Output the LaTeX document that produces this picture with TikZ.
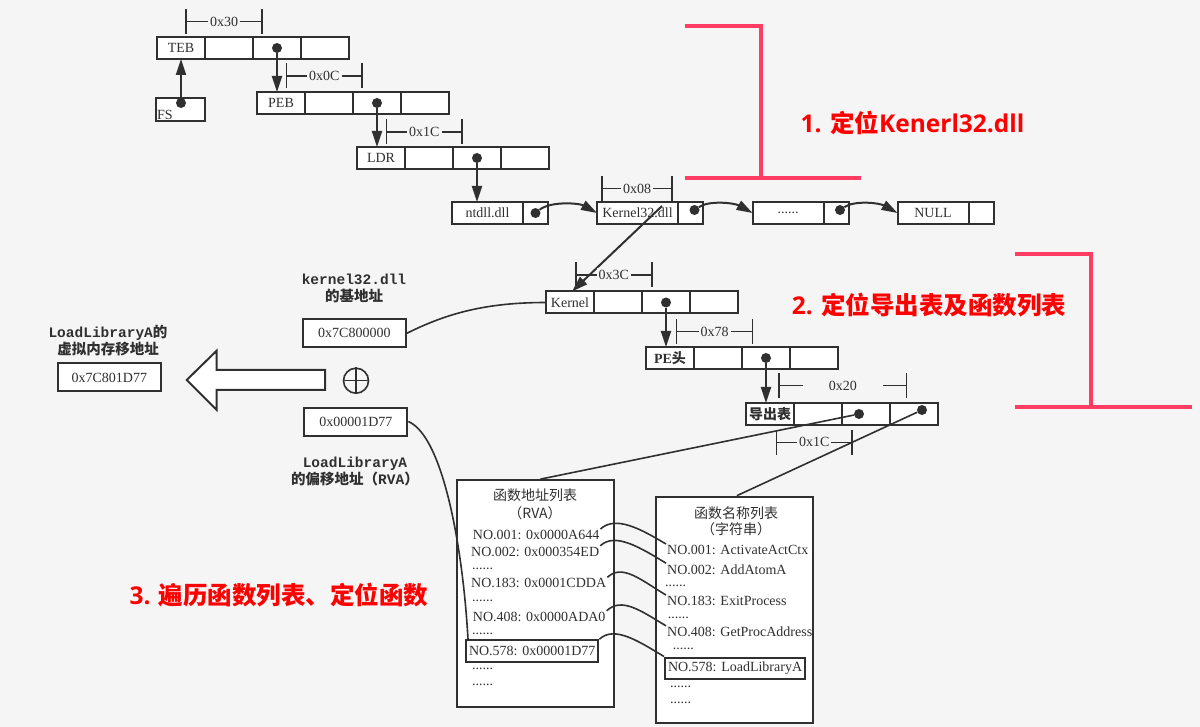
\documentclass[tikz,border=0pt]{standalone}
\usepackage{fontspec}
\setmainfont{Liberation Serif}
\newfontfamily\cjk{Noto Sans CJK SC}
\newfontfamily\monofnt{Liberation Mono}
\newfontfamily\notefnt{Open Sans}
\usetikzlibrary{arrows.meta, positioning}
\definecolor{ink}{HTML}{303030}
\definecolor{paper}{HTML}{F5F5F5}
\definecolor{mark}{HTML}{FF3D63}
\definecolor{notered}{HTML}{FF0000}

\begin{document}
\begin{tikzpicture}[x=1pt, y=-1pt,
    every node/.style={font=\fontsize{14}{16}\selectfont, text=ink},
    cell/.style={rectangle, draw=ink, line width=2pt, fill=white, minimum width=48pt, minimum height=22pt, inner sep=0pt, outer sep=0pt},
    valbox/.style={rectangle, draw=ink, line width=2pt, fill=white, minimum width=103pt, minimum height=28pt, inner sep=0pt},
    listbox/.style={rectangle, draw=ink, line width=2pt, fill=white, minimum width=157pt, minimum height=227pt, inner sep=0pt},
    dot/.style={circle, fill=ink, minimum size=10pt, inner sep=0pt},
    ptr/.style={-{Triangle[length=16pt,width=10pt]}, line width=2pt, draw=ink},
    link/.style={line width=1.6pt, draw=ink},
    dim/.style={{Bar[width=25pt]}-{Bar[width=25pt]}, line width=1.6pt, draw=ink},
    dimlabel/.style={fill=paper, inner ysep=2pt},
    caption/.style={font=\fontsize{14.5}{17}\selectfont\bfseries, align=center},
    entry/.style={anchor=west, inner sep=1pt},
    stepnote/.style={text=notered, font=\fontsize{24.5}{28}\selectfont\bfseries},
    bracket/.style={draw=mark, line width=4pt}]

    \fill[paper] (0,0) rectangle (1200,727);
    \useasboundingbox (0,0) rectangle (1200,727);

    % structure rows
    \foreach \r/\x/\y/\t in {teb/157/48/TEB, peb/257/103/PEB, ldr/357/158/LDR,
        kern/546/302.5/Kernel, pe/646/358/{\bfseries PE{\cjk 头}}, exp/746/414/{\cjk\bfseries 导出表}} {
        \node[cell] (\r1) at (\x+24,\y) {\t};
        \foreach \i [count=\j from 2] in {1,2,3}
            \node[cell, right=0pt of \r\i] (\r\j) {};
    }
    \node[cell, minimum width=49pt, minimum height=23pt] (fs) at (180.5,109.5) {};
    \node[anchor=south west, inner sep=1pt] (fstext) at (fs.south west) {FS};

    % module list
    \node[cell, minimum width=71pt] (ntdll) at (487.5,213) {ntdll.dll};
    \node[cell, minimum width=25pt, right=0pt of ntdll] (ntdllp) {};
    \node[cell, minimum width=81pt] (k32) at (637.5,213) {Kernel32.dll};
    \node[cell, minimum width=25pt, right=0pt of k32] (k32p) {};
    \node[cell, minimum width=71pt] (more) at (788,213) {......};
    \node[cell, minimum width=25pt, right=0pt of more] (morep) {};
    \node[cell, minimum width=71pt] (null) at (933,213) {NULL};
    \node[cell, minimum width=25pt, right=0pt of null] (nullp) {};

    % pointers
    \node[dot] (fsdot) at (181,103) {};
    \node[dot] (tebdot) at (teb3) {};
    \node[dot] (pebdot) at (peb3) {};
    \node[dot] (ldrdot) at (ldr3) {};
    \node[dot] (ntdlldot) at (ntdllp) {};
    \node[dot] (k32dot) at ([shift={(4,-3)}]k32p.center) {};
    \node[dot] (moredot) at ([shift={(4,-3)}]morep.center) {};
    \node[dot] (kerndot) at (kern3) {};
    \node[dot] (pedot) at (pe3) {};
    \node[dot] (expdot) at ([shift={(-7,0)}]exp3.center) {};
    \node[dot] (namedot) at ([shift={(8,-4)}]exp4.center) {};

    \draw[ptr] (fsdot) -- (fsdot |- teb1.south);
    \draw[ptr] (tebdot) -- (tebdot |- peb1.north);
    \draw[ptr] (pebdot) -- (pebdot |- ldr1.north);
    \draw[ptr] (ldrdot) -- (ldrdot |- ntdll.north);
    \draw[ptr] (ntdlldot) .. controls +(15,-12) and +(-18,-10) .. (k32.west);
    \draw[ptr] (k32dot) .. controls +(15,-10) and +(-18,-10) .. (more.west);
    \draw[ptr] (moredot) .. controls +(15,-10) and +(-18,-10) .. (null.west);
    \draw[ptr] ([shift={(24.5,-7)}]k32.center) -- ([xshift=2pt]kern1.north);
    \draw[ptr] (kerndot) -- (kerndot |- pe1.north);
    \draw[ptr] (pedot) -- (pedot |- exp1.north);

    % offsets
    \foreach \n/\xa/\xb/\y/\t/\w in {offteb/185/263/21.7/0x30/2pt, offpeb/285.7/363/76/0x0C/2pt,
        offldr/385.7/463/132/0x1C/2pt, offk32/601/673/188.5/0x08/2pt, offkern/575/652.7/275/0x3C/2pt,
        offpe/675.7/753.3/331.7/0x78/2pt, offexp/778.3/907.3/385.7/0x20/26pt,
        offaddr/775.7/852.7/442.3/0x1C/2pt} {
        \coordinate (\n a) at (\xa,\y);
        \coordinate (\n b) at (\xb,\y);
        \draw[dim] (\n a) -- node[dimlabel, inner xsep=\w] (\n) {\t} (\n b);
    }

    % address arithmetic
    \node[caption] (basecap) at (354,288) {{\monofnt kernel32.dll}\\{\cjk 的基地址}};
    \node[valbox] (base) at (354.35,333.3) {0x7C800000};
    \node[circle, draw=ink, line width=1.6pt, minimum size=25pt, inner sep=0pt] (plus) at (356,380.7) {};
    \draw[link] (plus.north) -- (plus.south) (plus.west) -- (plus.east);
    \node[valbox] (rva) at (355.85,421.5) {0x00001D77};
    \node[caption] (rvacap) at (355,471) {{\monofnt LoadLibraryA}\\{\cjk 的偏移地址（}{\monofnt RVA}{\cjk ）}};
    \node[caption] (vacap) at (108,340.5) {{\monofnt LoadLibraryA}{\cjk 的}\\{\cjk 虚拟内存移地址}};
    \node[valbox] (va) at (109.35,377.5) {0x7C801D77};
    \draw[ink, line width=2pt, fill=white] (186.7,380) -- (216.7,350.7) -- (216.7,370) -- (325,370)
        -- (325,390) -- (216.7,390) -- (216.7,410) -- cycle;
    \draw[link] (base.east) .. controls +(40,-20) and +(-60,0) .. (kern1.west);

    % function tables
    \node[listbox] (addrlist) at (535.35,593.65) {};
    \node (addrtitle) at (535,495) {\cjk 函数地址列表};
    \node (addrunit) at (535,513) {\cjk （RVA）};
    \node[entry] (a001) at (471.7,535) {NO.001: 0x0000A644};
    \node[entry] (a002) at (470,551.7) {NO.002: 0x000354ED};
    \node[entry] (adots1) at (471,569) {......};
    \node[entry] (a183) at (470,583.3) {NO.183: 0x0001CDDA};
    \node[entry] (adots2) at (471,601) {......};
    \node[entry] (a408) at (471.7,616.7) {NO.408: 0x0000ADA0};
    \node[entry] (adots3) at (471,634) {......};
    \node[entry, draw=ink, line width=2pt, inner xsep=3pt, minimum height=22pt] (a578) at (465,651.2) {NO.578: 0x00001D77};
    \node[entry] (adots4) at (471,669.3) {......};
    \node[entry] (adots5) at (471,685) {......};

    \node[listbox, minimum height=226.6pt] (namelist) at (734.35,610) {};
    \node (nametitle) at (736,513.3) {\cjk 函数名称列表};
    \node (nameunit) at (736,529.3) {\cjk （字符串）};
    \node[entry] (n001) at (666,550) {NO.001: ActivateActCtx};
    \node[entry] (n002) at (666,569.3) {NO.002: AddAtomA};
    \node[entry] (ndots1) at (664,585.5) {......};
    \node[entry] (n183) at (666,601) {NO.183: ExitProcess};
    \node[entry] (ndots2) at (666.7,617.5) {......};
    \node[entry] (n408) at (666,632) {NO.408: GetProcAddress};
    \node[entry] (ndots3) at (671.7,648.5) {......};
    \node[entry, draw=ink, line width=2pt, inner xsep=3pt, minimum height=21pt] (n578) at (664,668) {NO.578: LoadLibraryA};
    \node[entry] (ndots4) at (669,686.7) {......};
    \node[entry] (ndots5) at (669,702.7) {......};

    \draw[link] (expdot) -- ([xshift=5pt]addrlist.north);
    \draw[link] (namedot) -- ([xshift=2.5pt]namelist.north);
    \draw[link] (rva.east) .. controls +(35,15) and +(-5,-90) .. ([xshift=3pt]a578.north west);
    \foreach \k in {001,002,183,408,578}
        \draw[link] (a\k.north east) .. controls +(15,-14) and +(-25,-15) .. (n\k.north west);

    % steps
    \draw[bracket] (685,25.7) -- (761,25.7) -- (761,177.7);
    \draw[bracket] (685,177.7) -- (861,177.7);
    \draw[bracket] (1015,254.3) -- (1091,254.3) -- (1091,406.7);
    \draw[bracket] (1015,406.7) -- (1191.7,406.7);
    \node[stepnote] (stepone) at (912.5,122.7) {{\notefnt 1. }{\cjk 定位}{\notefnt Kenerl32.dll}};
    \node[stepnote] (steptwo) at (929,305) {{\notefnt 2. }{\cjk 定位导出表及函数列表}};
    \node[stepnote] (stepthree) at (279,595) {{\notefnt 3. }{\cjk 遍历函数列表、定位函数}};
\end{tikzpicture}
\end{document}
